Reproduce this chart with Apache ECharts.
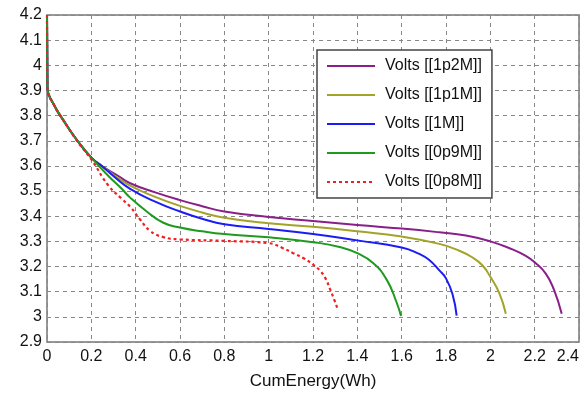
<!DOCTYPE html>
<html>
<head>
<meta charset="utf-8">
<script src="https://cdn.jsdelivr.net/npm/echarts@6/dist/echarts.min.js"></script>
<style>
  html, body { margin: 0; padding: 0; background: #fff; }
  #chart { width: 582px; height: 395px; }
</style>
</head>
<body>
<div id="chart"></div>
<script>
// discharge curves, voltage vs cumulative energy
const seriesNames = ["Volts [[1p2M]]", "Volts [[1p1M]]", "Volts [[1M]]", "Volts [[0p9M]]", "Volts [[0p8M]]"];

const x1p2 = [0, 0.002, 0.03, 0.075, 0.135, 0.2, 0.25, 0.32, 0.375, 0.488, 0.6, 0.7, 0.8, 1.0, 1.2, 1.4, 1.6, 1.77, 1.89, 2.0, 2.1, 2.16, 2.2, 2.25, 2.287, 2.322];
const v1p2 = [4.2, 3.91, 3.845, 3.78, 3.703, 3.633, 3.598, 3.561, 3.531, 3.495, 3.464, 3.44, 3.419, 3.397, 3.381, 3.365, 3.351, 3.336, 3.323, 3.3, 3.268, 3.242, 3.217, 3.172, 3.108, 3.012];

const x1p1 = [0, 0.002, 0.03, 0.075, 0.135, 0.2, 0.25, 0.306, 0.375, 0.488, 0.6, 0.7, 0.8, 1.0, 1.2, 1.4, 1.6, 1.77, 1.845, 1.92, 1.965, 2.0, 2.04, 2.07];
const v1p1 = [4.2, 3.91, 3.845, 3.78, 3.703, 3.633, 3.598, 3.561, 3.522, 3.477, 3.441, 3.415, 3.394, 3.372, 3.358, 3.34, 3.319, 3.29, 3.268, 3.236, 3.204, 3.159, 3.095, 3.012];

const x1 = [0, 0.002, 0.03, 0.075, 0.135, 0.2, 0.25, 0.306, 0.375, 0.488, 0.6, 0.7, 0.8, 1.0, 1.2, 1.4, 1.6, 1.68, 1.723, 1.77, 1.8, 1.83, 1.848];
const v1 = [4.2, 3.91, 3.845, 3.78, 3.703, 3.633, 3.598, 3.555, 3.509, 3.458, 3.419, 3.39, 3.368, 3.349, 3.329, 3.304, 3.276, 3.25, 3.227, 3.185, 3.153, 3.088, 3.005];

const x0p9 = [0, 0.002, 0.03, 0.075, 0.135, 0.2, 0.276, 0.336, 0.375, 0.45, 0.525, 0.6, 0.7, 0.8, 1.0, 1.2, 1.32, 1.4, 1.471, 1.531, 1.576, 1.597];
const v0p9 = [4.2, 3.91, 3.845, 3.78, 3.703, 3.633, 3.561, 3.51, 3.474, 3.419, 3.374, 3.355, 3.34, 3.329, 3.316, 3.297, 3.278, 3.253, 3.214, 3.15, 3.06, 3.003];

const x0p8 = [0, 0.002, 0.03, 0.075, 0.135, 0.2, 0.276, 0.336, 0.375, 0.42, 0.465, 0.525, 0.6, 0.8, 1.0, 1.06, 1.111, 1.16, 1.2, 1.23, 1.255, 1.276, 1.295, 1.309];
const v0p8 = [4.2, 3.91, 3.845, 3.78, 3.70, 3.626, 3.523, 3.47, 3.438, 3.387, 3.342, 3.317, 3.308, 3.302, 3.293, 3.275, 3.253, 3.232, 3.208, 3.185, 3.155, 3.112, 3.07, 3.037];

const colors = ["#8a1f8a", "#a3a32a", "#1c1cf5", "#1f9a1f", "#f02020"];

const zip = (xs, ys) => xs.map((x, i) => [x, ys[i]]);
const allData = [zip(x1p2, v1p2), zip(x1p1, v1p1), zip(x1, v1), zip(x0p9, v0p9), zip(x0p8, v0p8)];

const chart = echarts.init(document.getElementById("chart"));
const font = "Liberation Sans, Arial, sans-serif";

chart.setOption({
  animation: false,
  grid: {
    left: 47, right: 3, top: 15, bottom: 43,
    show: true, borderColor: "#777", borderWidth: 1.5
  },
  legend: {
    orient: "vertical",
    left: 317, top: 50,
    padding: [8, 10, 8, 9],
    backgroundColor: "#fff",
    borderColor: "#444",
    borderWidth: 1.5,
    itemWidth: 48,
    itemHeight: 14,
    itemGap: 13,
    itemStyle: { opacity: 0 },
    data: seriesNames,
    textStyle: { fontFamily: font, fontSize: 16, color: "#111", padding: [0, 0, 0, 5] }
  },
  xAxis: {
    type: "value",
    min: 0, max: 2.4, interval: 0.2,
    name: "CumEnergy(Wh)",
    nameLocation: "middle",
    nameGap: 31,
    nameTextStyle: { fontFamily: font, fontSize: 17, color: "#111" },
    axisLine: { show: false },
    axisTick: { show: false },
    axisLabel: { fontFamily: font, fontSize: 16, color: "#111", margin: 7, alignMaxLabel: "right" },
    splitLine: { lineStyle: { color: "#888", type: [4, 4], width: 1 } }
  },
  yAxis: {
    type: "value",
    min: 2.9, max: 4.2, interval: 0.1,
    axisLine: { show: false },
    axisTick: { show: false },
    axisLabel: { fontFamily: font, fontSize: 16, color: "#111", margin: 5 },
    splitLine: { lineStyle: { color: "#888", type: [4, 4], width: 1 } }
  },
  series: seriesNames.map((name, i) => ({
    name: name,
    type: "line",
    data: allData[i],
    showSymbol: false,
    symbol: "none",
    smooth: 0.5,
    color: colors[i],
    lineStyle: {
      color: colors[i],
      width: i === 4 ? 2.2 : 2,
      type: i === 4 ? [3, 3] : "solid"
    }
  }))
});
</script>
</body>
</html>
